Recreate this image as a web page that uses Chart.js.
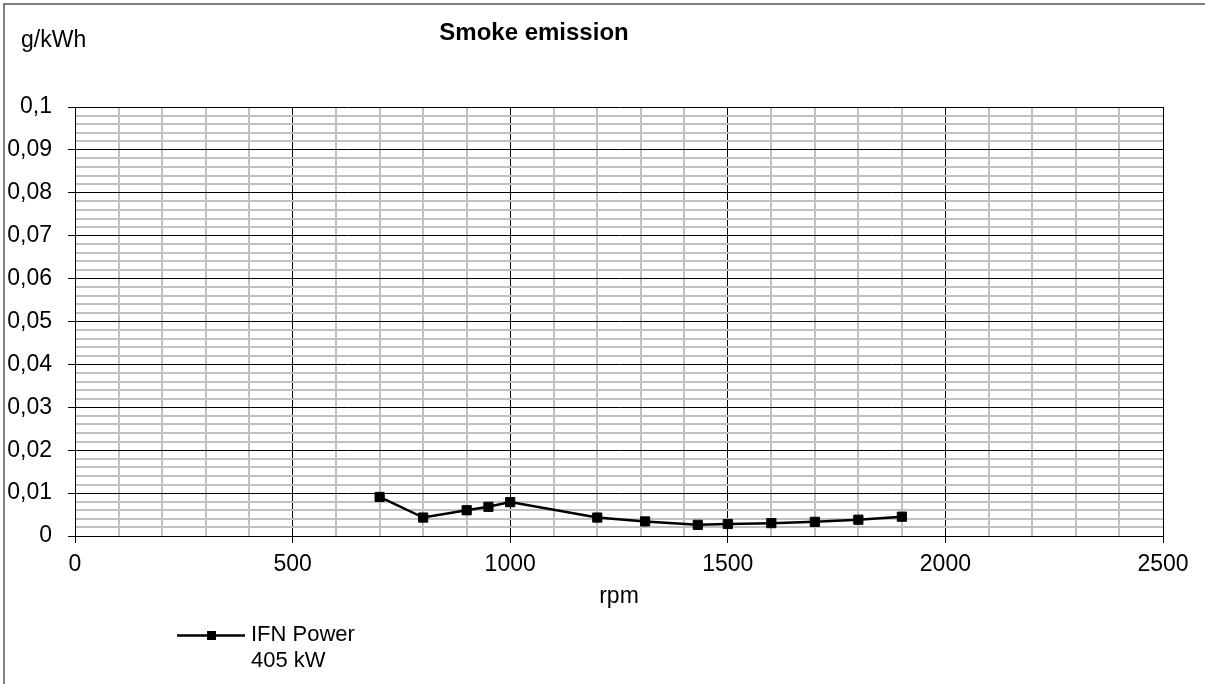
<!DOCTYPE html>
<html>
<head>
<meta charset="utf-8">
<script src="https://cdn.jsdelivr.net/npm/chart.js@4/dist/chart.umd.min.js"></script>
<style>
  html, body { margin: 0; padding: 0; background: #fff; }
  #wrap { width: 1205px; height: 684px; position: relative; }
</style>
</head>
<body>
<div id="wrap"><canvas id="c" width="1205" height="684"></canvas></div>
<script>
// Engine speed (rpm) and measured smoke emission (g/kWh)
const rpm = [700, 800, 900, 950, 1000, 1200, 1310, 1431, 1500, 1600, 1700, 1800, 1900];
const smoke = [0.0091, 0.0043, 0.0060, 0.0068, 0.0079, 0.0043, 0.0034, 0.0026, 0.0028, 0.0030, 0.0033, 0.0038, 0.0045];

// Labelled ticks (every 500 rpm / every 0,01 g/kWh)
const xTickLabels = ['0', '500', '1000', '1500', '2000', '2500'];
const yTickLabels = ['0', '0,01', '0,02', '0,03', '0,04', '0,05', '0,06', '0,07', '0,08', '0,09', '0,1'];

const chartTitle = 'Smoke emission';
const unitLabel = 'g/kWh';
const xAxisTitle = 'rpm';
const seriesLabel = ['IFN Power', '405 kW'];

const FONT = '"Liberation Sans", Arial, sans-serif';
const MAJOR = '#000000';
const MINOR = '#c0c0c0';

const isMajorX = v => Math.round(v) % 500 === 0;
const isMajorY = v => Math.round(v * 1000) % 10 === 0;

// Frame, title, unit label and legend drawn around the plot
const decorations = {
  id: 'decorations',
  beforeDraw(chart) {
    const ctx = chart.ctx;
    ctx.save();
    ctx.strokeStyle = '#808080';
    ctx.lineWidth = 2;
    ctx.beginPath();
    ctx.moveTo(4, 684);
    ctx.lineTo(4, 4);
    ctx.lineTo(1205, 4);
    ctx.stroke();
    ctx.restore();
  },
  afterDraw(chart) {
    const ctx = chart.ctx;
    ctx.save();
    ctx.fillStyle = '#000';
    ctx.textBaseline = 'middle';

    ctx.font = 'bold 24px ' + FONT;
    ctx.textAlign = 'center';
    ctx.fillText(chartTitle, 534, 33);

    ctx.font = '23px ' + FONT;
    ctx.textAlign = 'left';
    ctx.fillText(unitLabel, 21, 41);

    // legend entry
    const ly = 635.5;
    ctx.strokeStyle = '#000';
    ctx.lineWidth = 2.5;
    ctx.beginPath();
    ctx.moveTo(177, ly);
    ctx.lineTo(245, ly);
    ctx.stroke();
    ctx.fillRect(207, ly - 4.5, 9, 9);
    ctx.font = '22px ' + FONT;
    ctx.fillText(seriesLabel[0], 251, 635);
    ctx.fillText(seriesLabel[1], 251, 661);
    ctx.restore();
  }
};

new Chart(document.getElementById('c'), {
  type: 'line',
  data: {
    datasets: [{
      label: seriesLabel.join(' '),
      data: rpm.map((r, i) => ({ x: r, y: smoke[i] })),
      borderColor: '#000',
      backgroundColor: '#000',
      borderWidth: 2.5,
      pointStyle: 'rect',
      pointRadius: 6.5,
      pointBorderWidth: 1,
      tension: 0
    }]
  },
  options: {
    responsive: false,
    animation: false,
    devicePixelRatio: 1,
    layout: { padding: { left: 0, top: 107, right: 42, bottom: 0 } },
    plugins: {
      legend: { display: false },
      title: { display: false },
      tooltip: { enabled: false }
    },
    scales: {
      x: {
        type: 'linear',
        min: 0,
        max: 2500,
        afterFit(scale) { scale.height = 148; },
        border: { display: true, color: MAJOR, width: 1 },
        grid: {
          color: c => isMajorX(c.tick.value) ? MAJOR : MINOR,
          lineWidth: c => isMajorX(c.tick.value) ? 1 : 2,
          tickColor: c => isMajorX(c.tick.value) ? MAJOR : 'rgba(0,0,0,0)',
          tickLength: 7,
          tickWidth: 1
        },
        ticks: {
          stepSize: 100,
          maxTicksLimit: 100,
          autoSkip: false,
          maxRotation: 0,
          padding: 8,
          color: '#000',
          font: { family: FONT, size: 23 },
          callback: v => isMajorX(v) ? xTickLabels[Math.round(v / 500)] : ''
        },
        title: {
          display: true,
          text: xAxisTitle,
          color: '#000',
          font: { family: FONT, size: 23 },
          padding: { top: 0, bottom: 74 }
        }
      },
      y: {
        type: 'linear',
        min: 0,
        max: 0.1,
        afterFit(scale) { scale.width = 75; },
        border: { display: true, color: MAJOR, width: 1 },
        grid: {
          color: c => isMajorY(c.tick.value) ? MAJOR : MINOR,
          lineWidth: c => isMajorY(c.tick.value) ? 1 : 2,
          tickColor: c => isMajorY(c.tick.value) ? MAJOR : 'rgba(0,0,0,0)',
          tickLength: 7,
          tickWidth: 1
        },
        ticks: {
          stepSize: 0.002,
          maxTicksLimit: 100,
          autoSkip: false,
          padding: 16,
          color: '#000',
          font: { family: FONT, size: 23 },
          callback: v => isMajorY(v) ? yTickLabels[Math.round(v * 100)] : ''
        }
      }
    }
  },
  plugins: [decorations]
});
</script>
</body>
</html>
